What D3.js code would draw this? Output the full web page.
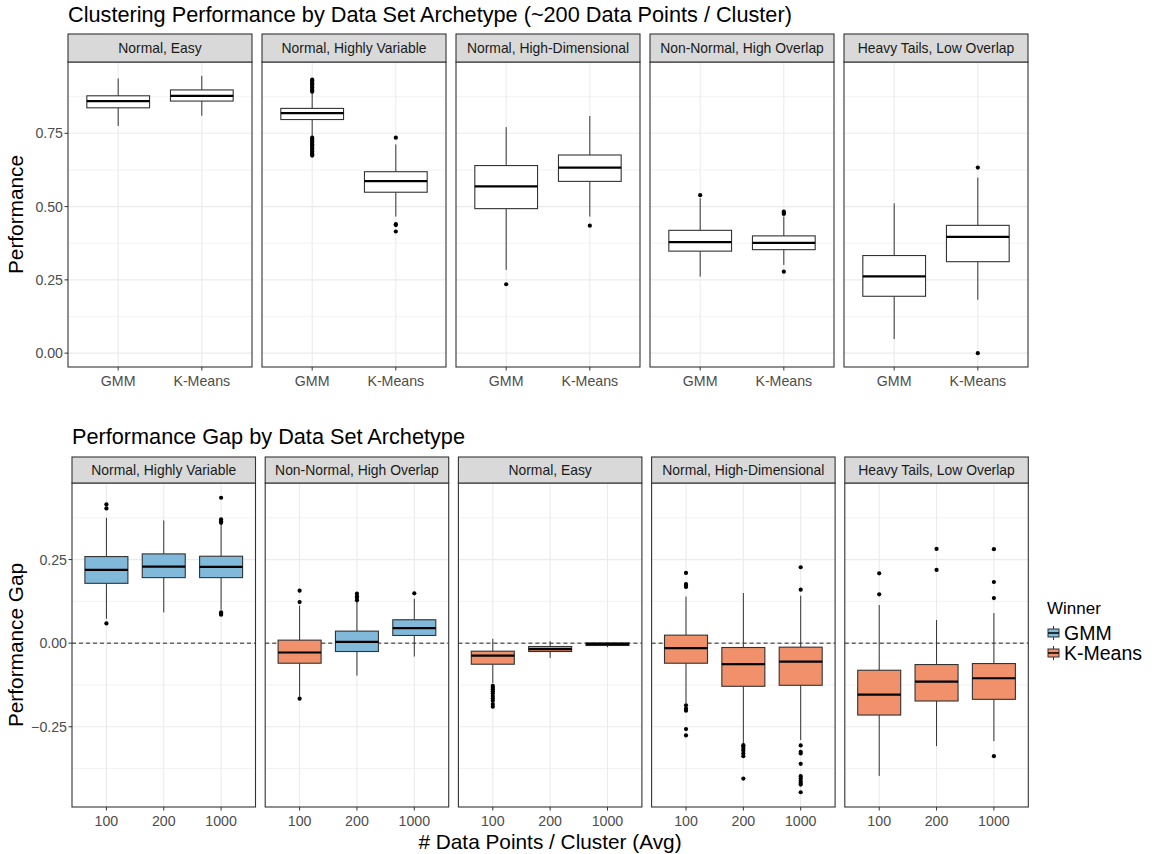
<!DOCTYPE html>
<html><head><meta charset="utf-8">
<script src="https://cdn.jsdelivr.net/npm/d3@7"></script>
<style>body{margin:0;background:#fff;} text{font-family:"Liberation Sans",Arial,Helvetica,sans-serif;}</style>
</head><body>
<svg id="chart" width="1156" height="854"></svg>
<script>
// ---------- DATA ----------
const topTitle = "Clustering Performance by Data Set Archetype (~200 Data Points / Cluster)";
const topFacets = ["Normal, Easy","Normal, Highly Variable","Normal, High-Dimensional","Non-Normal, High Overlap","Heavy Tails, Low Overlap"];
const topMethods = ["GMM","K-Means"];
const topYTicks = [0, 0.25, 0.5, 0.75];
// stats: [lower whisker, Q1, median, Q3, upper whisker]
const gmmStats = [[0.775,0.837,0.860,0.878,0.937],[0.739,0.797,0.819,0.835,0.890],[0.284,0.493,0.569,0.640,0.771],[0.261,0.348,0.379,0.419,0.528],[0.048,0.194,0.262,0.333,0.511]];
const kmStats  = [[0.810,0.860,0.878,0.898,0.946],[0.466,0.549,0.587,0.619,0.712],[0.466,0.586,0.633,0.676,0.809],[0.301,0.353,0.376,0.400,0.466],[0.182,0.312,0.397,0.436,0.599]];
const gmmOutliers = [[],[0.933,0.930,0.926,0.921,0.916,0.911,0.906,0.901,0.896,0.892,0.735,0.731,0.727,0.722,0.718,0.713,0.708,0.703,0.698,0.693,0.688,0.683,0.678,0.674],[0.235],[0.539],[]];
const kmOutliers  = [[],[0.735,0.440,0.437,0.415],[0.435],[0.483,0.479,0.475,0.278],[0.633,0.0]];

const gapTitle = "Performance Gap by Data Set Archetype";
const gapFacets = ["Normal, Highly Variable","Non-Normal, High Overlap","Normal, Easy","Normal, High-Dimensional","Heavy Tails, Low Overlap"];
const gapSizes = ["100","200","1000"];
const gapYTicks = [-0.25, 0, 0.25];
const gapStats = [
  [[0.073,0.179,0.219,0.259,0.375],[0.092,0.196,0.229,0.267,0.367],[0.100,0.196,0.228,0.260,0.355]],
  [[-0.160,-0.060,-0.028,0.009,0.112],[-0.097,-0.025,0.004,0.036,0.125],[-0.040,0.023,0.045,0.070,0.133]],
  [[-0.120,-0.063,-0.037,-0.024,0.013],[-0.044,-0.025,-0.018,-0.010,0.006],[-0.012,-0.007,-0.003,0.001,0.003]],
  [[-0.180,-0.060,-0.015,0.024,0.139],[-0.300,-0.129,-0.063,-0.013,0.150],[-0.290,-0.126,-0.055,-0.012,0.142]],
  [[-0.397,-0.215,-0.154,-0.081,0.114],[-0.308,-0.173,-0.115,-0.064,0.069],[-0.293,-0.168,-0.105,-0.061,0.090]]
];
const gapOutliers = [
  [[0.415,0.403,0.059],[],[0.435,0.370,0.365,0.360,0.092,0.088,0.085]],
  [[0.157,0.123,-0.166],[0.148,0.140,0.135,0.128],[0.149]],
  [[-0.128,-0.133,-0.138,-0.144,-0.150,-0.158,-0.165,-0.172,-0.182,-0.190],[],[]],
  [[0.210,0.177,0.172,0.168,-0.186,-0.196,-0.202,-0.257,-0.276],[-0.305,-0.310,-0.316,-0.322,-0.330,-0.338,-0.405],[0.227,0.160,-0.306,-0.325,-0.330,-0.361,-0.398,-0.405,-0.412,-0.418,-0.423,-0.446]],
  [[0.209,0.146],[0.282,0.219],[0.281,0.183,0.135,-0.338]]
];
const gapWinner = [["GMM","GMM","GMM"],["K-Means","GMM","GMM"],["K-Means","K-Means","K-Means"],["K-Means","K-Means","K-Means"],["K-Means","K-Means","K-Means"]];
const winnerLevels = ["GMM","K-Means"];
const winnerColors = ["#80B9DA","#F0916C"];
const xAxisTitle = "# Data Points / Cluster (Avg)";
const legendTitle = "Winner";

// ---------- DRAW ----------
const svg = d3.select("#chart");
const fillScale = d3.scaleOrdinal().domain(winnerLevels).range(winnerColors);
const FS = {title:21.7, axisTitle:20.8, strip:13.9, tick:14.2, legTitle:17, legLabel:19.5};

function drawFacets(cfg){
  const g = svg.append("g");
  const x0 = cfg.left, pw = cfg.panelW, gap = cfg.gap;
  const y = d3.scaleLinear().domain(cfg.yDomain).range([cfg.panelBottom, cfg.panelTop]);
  cfg.yTicks.forEach(t=>{
    g.append("text").attr("x", x0-5).attr("y", y(t)).attr("dy","0.35em")
      .attr("text-anchor","end").attr("font-size",FS.tick).attr("fill","#4d4d4d")
      .text(d3.format(".2f")(t));
    g.append("line").attr("x1",x0-3.5).attr("x2",x0).attr("y1",y(t)).attr("y2",y(t)).attr("stroke","#333").attr("stroke-width",1);
  });
  const minor = [];
  const allT = cfg.yTicks;
  const step = allT[1]-allT[0];
  for(let v=allT[0]-step/2; v<=cfg.yDomain[1]; v+=step){ if(v>=cfg.yDomain[0]) minor.push(v); }
  cfg.facets.forEach((f,i)=>{
    const px = x0 + i*(pw+gap);
    const pg = g.append("g");
    const n = cfg.cats.length;
    const unit = pw/(n-1+1.2);
    const xc = c => px + (0.6 + cfg.cats.indexOf(c))*unit;
    pg.append("rect").attr("x",px).attr("y",cfg.panelTop).attr("width",pw).attr("height",cfg.panelBottom-cfg.panelTop).attr("fill","#fff");
    minor.forEach(v=>pg.append("line").attr("x1",px).attr("x2",px+pw).attr("y1",y(v)).attr("y2",y(v)).attr("stroke","#ebebeb").attr("stroke-width",0.6));
    cfg.yTicks.forEach(v=>pg.append("line").attr("x1",px).attr("x2",px+pw).attr("y1",y(v)).attr("y2",y(v)).attr("stroke","#ebebeb").attr("stroke-width",1.1));
    cfg.cats.forEach(c=>pg.append("line").attr("x1",xc(c)).attr("x2",xc(c)).attr("y1",cfg.panelTop).attr("y2",cfg.panelBottom).attr("stroke","#ebebeb").attr("stroke-width",1.1));
    if(cfg.zeroLine){
      pg.append("line").attr("x1",px).attr("x2",px+pw).attr("y1",y(0)).attr("y2",y(0)).attr("stroke","#222").attr("stroke-width",1).attr("stroke-dasharray","4,3");
    }
    const bw = 0.75*unit;
    cfg.cats.forEach((c,j)=>{
      const s = cfg.stats(i,j), cx = xc(c);
      const fill = cfg.fill(i,j);
      const stroke = "#333";
      pg.append("line").attr("x1",cx).attr("x2",cx).attr("y1",y(s[4])).attr("y2",y(s[3])).attr("stroke",stroke).attr("stroke-width",1);
      pg.append("line").attr("x1",cx).attr("x2",cx).attr("y1",y(s[1])).attr("y2",y(s[0])).attr("stroke",stroke).attr("stroke-width",1);
      pg.append("rect").attr("x",cx-bw/2).attr("y",y(s[3])).attr("width",bw).attr("height",Math.max(0.5,y(s[1])-y(s[3])))
        .attr("fill",fill).attr("stroke",stroke).attr("stroke-width",1.1);
      pg.append("line").attr("x1",cx-bw/2).attr("x2",cx+bw/2).attr("y1",y(s[2])).attr("y2",y(s[2])).attr("stroke","#000").attr("stroke-width",2.2);
      cfg.outliers(i,j).forEach(o=>pg.append("circle").attr("cx",cx).attr("cy",y(o)).attr("r",2.1).attr("fill","#000"));
    });
    pg.append("rect").attr("x",px).attr("y",cfg.panelTop).attr("width",pw).attr("height",cfg.panelBottom-cfg.panelTop).attr("fill","none").attr("stroke","#333").attr("stroke-width",1.1);
    pg.append("rect").attr("x",px).attr("y",cfg.stripTop).attr("width",pw).attr("height",cfg.panelTop-cfg.stripTop).attr("fill","#d9d9d9").attr("stroke","#333").attr("stroke-width",1.1);
    pg.append("text").attr("x",px+pw/2).attr("y",(cfg.stripTop+cfg.panelTop)/2).attr("dy","0.35em").attr("text-anchor","middle").attr("font-size",FS.strip).attr("fill","#1a1a1a").text(f);
    cfg.cats.forEach(c=>{
      pg.append("line").attr("x1",xc(c)).attr("x2",xc(c)).attr("y1",cfg.panelBottom).attr("y2",cfg.panelBottom+3.5).attr("stroke","#333");
      pg.append("text").attr("x",xc(c)).attr("y",cfg.panelBottom+14.5).attr("dy","0.35em").attr("text-anchor","middle").attr("font-size",FS.tick).attr("fill","#4d4d4d").text(c);
    });
  });
  g.append("text").attr("x",cfg.left).attr("y",cfg.titleY).attr("font-size",FS.title).attr("fill","#000").text(cfg.title);
  g.append("text").attr("transform",`translate(${cfg.yTitleX},${(cfg.panelTop+cfg.panelBottom)/2}) rotate(-90)`).attr("text-anchor","middle").attr("font-size",FS.axisTitle).attr("fill","#000").text(cfg.yTitle);
}

const topAll = gmmStats.flat().concat(kmStats.flat(), gmmOutliers.flat(), kmOutliers.flat());
const tMin = d3.min(topAll), tMax = d3.max(topAll), tR = tMax-tMin;
drawFacets({
  title: topTitle, titleY: 22, yTitle: "Performance", yTitleX: 23,
  facets: topFacets, cats: topMethods,
  left: 68, panelW: 184, gap: 10,
  stripTop: 34, panelTop: 62, panelBottom: 367,
  yDomain: [tMin-0.05*tR, tMax+0.05*tR], yTicks: topYTicks,
  stats: (i,j)=> (j===0?gmmStats:kmStats)[i],
  outliers: (i,j)=> (j===0?gmmOutliers:kmOutliers)[i],
  fill: ()=> "#fff", zeroLine:false
});

const gapAll = gapStats.flat(2).concat(gapOutliers.flat(2));
const gMin = d3.min(gapAll), gMax = d3.max(gapAll), gR = gMax-gMin;
drawFacets({
  title: gapTitle, titleY: 444, yTitle: "Performance Gap", yTitleX: 23,
  facets: gapFacets, cats: gapSizes,
  left: 72, panelW: 183.5, gap: 9.7,
  stripTop: 457, panelTop: 483, panelBottom: 807,
  yDomain: [gMin-0.05*gR, gMax+0.05*gR], yTicks: gapYTicks,
  stats: (i,j)=> gapStats[i][j],
  outliers: (i,j)=> gapOutliers[i][j],
  fill: (i,j)=> fillScale(gapWinner[i][j]), zeroLine:true
});

svg.append("text").attr("x",(72+1028)/2).attr("y",849).attr("text-anchor","middle").attr("font-size",FS.axisTitle).attr("fill","#000").text(xAxisTitle);

const lg = svg.append("g").attr("transform","translate(1047,0)");
lg.append("text").attr("x",0).attr("y",614).attr("font-size",FS.legTitle).attr("fill","#000").text(legendTitle);
winnerLevels.forEach((w,k)=>{
  const yy = 626 + k*20;
  lg.append("line").attr("x1",6.5).attr("x2",6.5).attr("y1",yy).attr("y2",yy+14).attr("stroke","#333");
  lg.append("rect").attr("x",1).attr("y",yy+3).attr("width",11).attr("height",8).attr("fill",fillScale(w)).attr("stroke","#333").attr("stroke-width",1);
  lg.append("line").attr("x1",1).attr("x2",12).attr("y1",yy+7).attr("y2",yy+7).attr("stroke","#000").attr("stroke-width",1.5);
  lg.append("text").attr("x",17).attr("y",yy+7).attr("dy","0.35em").attr("font-size",FS.legLabel).attr("fill","#000").text(w);
});
</script>
</body></html>
